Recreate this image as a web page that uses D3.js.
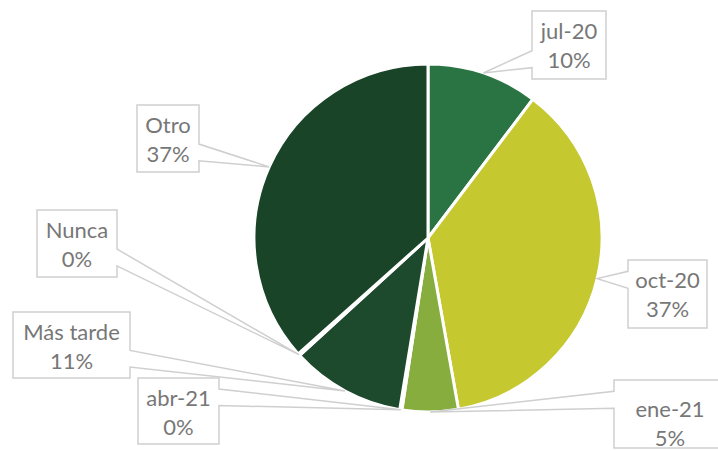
<!DOCTYPE html>
<html>
<head>
<meta charset="utf-8">
<script src="https://cdn.jsdelivr.net/npm/d3@7"></script>
<style>
  html, body { margin: 0; padding: 0; background: #fff; }
  svg { display: block; }
</style>
</head>
<body>
<svg id="chart" width="718" height="451"></svg>
<script>
// ---- data ----
const categories = ["jul-20", "oct-20", "ene-21", "abr-21", "Más tarde", "Nunca", "Otro"];
const values = [10.3, 36.9, 5.2, 0.2, 10.6, 0.2, 36.6];
const colors = ["#2a7443", "#c5c82f", "#86ad3d", "#3d7a36", "#1d4a2c", "#1a4628", "#1a4428"];

// ---- layout of callout boxes (position, size, text offset from top) ----
const boxes = [
  { x: 532, y: 11,  w: 74,  h: 68, t: 28 },
  { x: 628, y: 260, w: 79,  h: 68, t: 28 },
  { x: 614, y: 380, w: 112, h: 68, t: 37 },
  { x: 138, y: 378, w: 81,  h: 66, t: 28 },
  { x: 13,  y: 312, w: 117, h: 66, t: 28 },
  { x: 37,  y: 210, w: 80,  h: 67, t: 28 },
  { x: 137, y: 105, w: 62,  h: 67, t: 28 }
];

const cx = 428, cy = 238, R = 174;
const svg = d3.select("#chart");
const total = d3.sum(values);
const data = categories.map((c, i) => ({ name: c, value: values[i], color: colors[i], box: boxes[i] }));

const pie = d3.pie().sort(null).value(d => d.value).startAngle(0).endAngle(2 * Math.PI);
const arc = d3.arc().innerRadius(0).outerRadius(R);
const arcs = pie(data);

const g = svg.append("g").attr("transform", `translate(${cx},${cy})`);
g.selectAll("path.slice").data(arcs).join("path")
  .attr("class", "slice")
  .attr("d", arc)
  .attr("fill", d => d.data.color)
  .attr("stroke", "#fff")
  .attr("stroke-width", 3)
  .attr("stroke-linejoin", "round");

const fmt = d3.format(".0%");

function calloutPath(b, tip) {
  const centerY = b.y + b.h / 2;
  const lower = tip[1] > centerY;
  const n1 = b.y + b.h * (lower ? 7 / 12 : 2 / 12);
  const n2 = b.y + b.h * (lower ? 10 / 12 : 5 / 12);
  const p = d3.path();
  if (tip[0] < b.x) {
    p.moveTo(b.x, b.y); p.lineTo(b.x + b.w, b.y); p.lineTo(b.x + b.w, b.y + b.h);
    p.lineTo(b.x, b.y + b.h); p.lineTo(b.x, n2); p.lineTo(tip[0], tip[1]); p.lineTo(b.x, n1);
    p.closePath();
  } else {
    p.moveTo(b.x, b.y); p.lineTo(b.x + b.w, b.y); p.lineTo(b.x + b.w, n1);
    p.lineTo(tip[0], tip[1]); p.lineTo(b.x + b.w, n2); p.lineTo(b.x + b.w, b.y + b.h);
    p.lineTo(b.x, b.y + b.h); p.closePath();
  }
  return p.toString();
}

const labels = svg.append("g");
arcs.forEach(a => {
  const b = a.data.box;
  const mid = (a.startAngle + a.endAngle) / 2;
  const tip = [cx + R * Math.sin(mid), cy - R * Math.cos(mid)];
  const lg = labels.append("g");
  lg.append("path")
    .attr("d", calloutPath(b, tip))
    .attr("fill", "#fff")
    .attr("stroke", "#cfcfcf")
    .attr("stroke-width", 1.5)
    .attr("stroke-linejoin", "miter");
  const tx = b.x + b.w / 2;
  const txt = lg.append("text")
    .attr("text-anchor", "middle")
    .attr("font-family", "Lato, 'Open Sans', sans-serif")
    .attr("font-size", 22)
    .attr("fill", "#777777");
  txt.append("tspan").attr("x", tx).attr("y", b.y + b.t).text(a.data.name);
  txt.append("tspan").attr("x", tx).attr("y", b.y + b.t + 29).text(fmt(a.data.value / total));
});
</script>
</body>
</html>
